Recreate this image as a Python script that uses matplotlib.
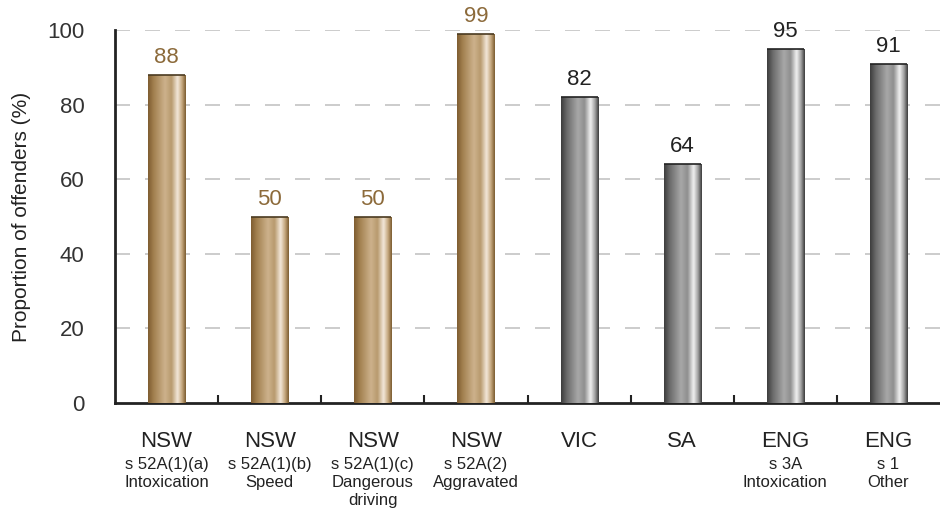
import numpy as np
import matplotlib
matplotlib.use('Agg')
import matplotlib.pyplot as plt
from matplotlib.colors import LinearSegmentedColormap

# data
jurisdictions = ['NSW', 'NSW', 'NSW', 'NSW', 'VIC', 'SA', 'ENG', 'ENG']
sub_labels = ['s 52A(1)(a)\nIntoxication', 's 52A(1)(b)\nSpeed',
              's 52A(1)(c)\nDangerous\ndriving', 's 52A(2)\nAggravated',
              '', '', 's 3A\nIntoxication', 's 1\nOther']
values = [88, 50, 50, 99, 82, 64, 95, 91]
is_nsw = [True, True, True, True, False, False, False, False]

plt.rcParams['font.family'] = ['Liberation Sans', 'DejaVu Sans']

gold_cmap = LinearSegmentedColormap.from_list('gold', [
    (0.0, '#7e5c30'), (0.15, '#a2804f'), (0.45, '#cdb28c'),
    (0.62, '#b89a6e'), (0.78, '#f3e8da'), (0.9, '#c4a67c'), (1.0, '#7a5a2e')])
gray_cmap = LinearSegmentedColormap.from_list('gray', [
    (0.0, '#3c3c3c'), (0.15, '#6a6a6a'), (0.45, '#a8a8a8'),
    (0.62, '#8e8e8e'), (0.78, '#f2f2f2'), (0.9, '#a0a0a0'), (1.0, '#383838')])

fig = plt.figure(figsize=(9.4, 5.13), dpi=100)
ax = fig.add_axes([115 / 940, 1 - 403 / 513, 825 / 940, 373 / 513])

x = np.arange(len(values))
width = 0.36
bars = ax.bar(x, values, width=width, color='none', edgecolor='none', zorder=3)

# cylinder-like shading on each bar
grad = np.linspace(0, 1, 256).reshape(1, -1)
for bar, nsw in zip(bars, is_nsw):
    x0, w, h = bar.get_x(), bar.get_width(), bar.get_height()
    im = ax.imshow(grad, cmap=gold_cmap if nsw else gray_cmap, aspect='auto',
                   extent=(x0, x0 + w, 0, h), zorder=3, interpolation='bicubic')
    im.set_clip_path(bar)
    ax.plot([x0, x0 + w], [h, h], color='#4a3a20' if nsw else '#222222',
            lw=1.2, zorder=4, solid_capstyle='butt')

for xi, v, nsw in zip(x, values, is_nsw):
    ax.annotate(str(v), (xi, v), xytext=(0, 5), textcoords='offset points',
                ha='center', va='bottom', fontsize=16,
                color='#8c6a3a' if nsw else '#222222')

ax.set_xlim(-0.5, len(values) - 0.5)
ax.set_ylim(0, 100)
ax.set_yticks([0, 20, 40, 60, 80, 100])
ax.tick_params(axis='y', length=0, pad=22, labelsize=16, labelcolor='#333333')
ax.set_ylabel('Proportion of offenders (%)', fontsize=15, color='#222222', labelpad=12)

for yv in [20, 40, 60, 80, 100]:
    ax.axhline(yv, color='#c4c4c4', lw=1.2, linestyle=(0, (9, 9)), zorder=1)

ax.set_xticks([])
ax.set_xticks(np.arange(0.5, len(values) - 0.5, 1), minor=True)
ax.tick_params(axis='x', which='minor', direction='in', length=6, width=1.5,
               color='#222222')

for xi, j, s in zip(x, jurisdictions, sub_labels):
    ax.annotate(j, (xi, 0), xytext=(0, -20), textcoords='offset points',
                ha='center', va='top', fontsize=16, color='#222222',
                annotation_clip=False)
    if s:
        ax.annotate(s, (xi, 0), xytext=(0, -39), textcoords='offset points',
                    ha='center', va='top', fontsize=12, color='#222222',
                    linespacing=1.25, annotation_clip=False)

for side in ['top', 'right']:
    ax.spines[side].set_visible(False)
for side in ['left', 'bottom']:
    ax.spines[side].set_linewidth(2)
    ax.spines[side].set_color('#222222')

fig.savefig('out.png', dpi=100)
